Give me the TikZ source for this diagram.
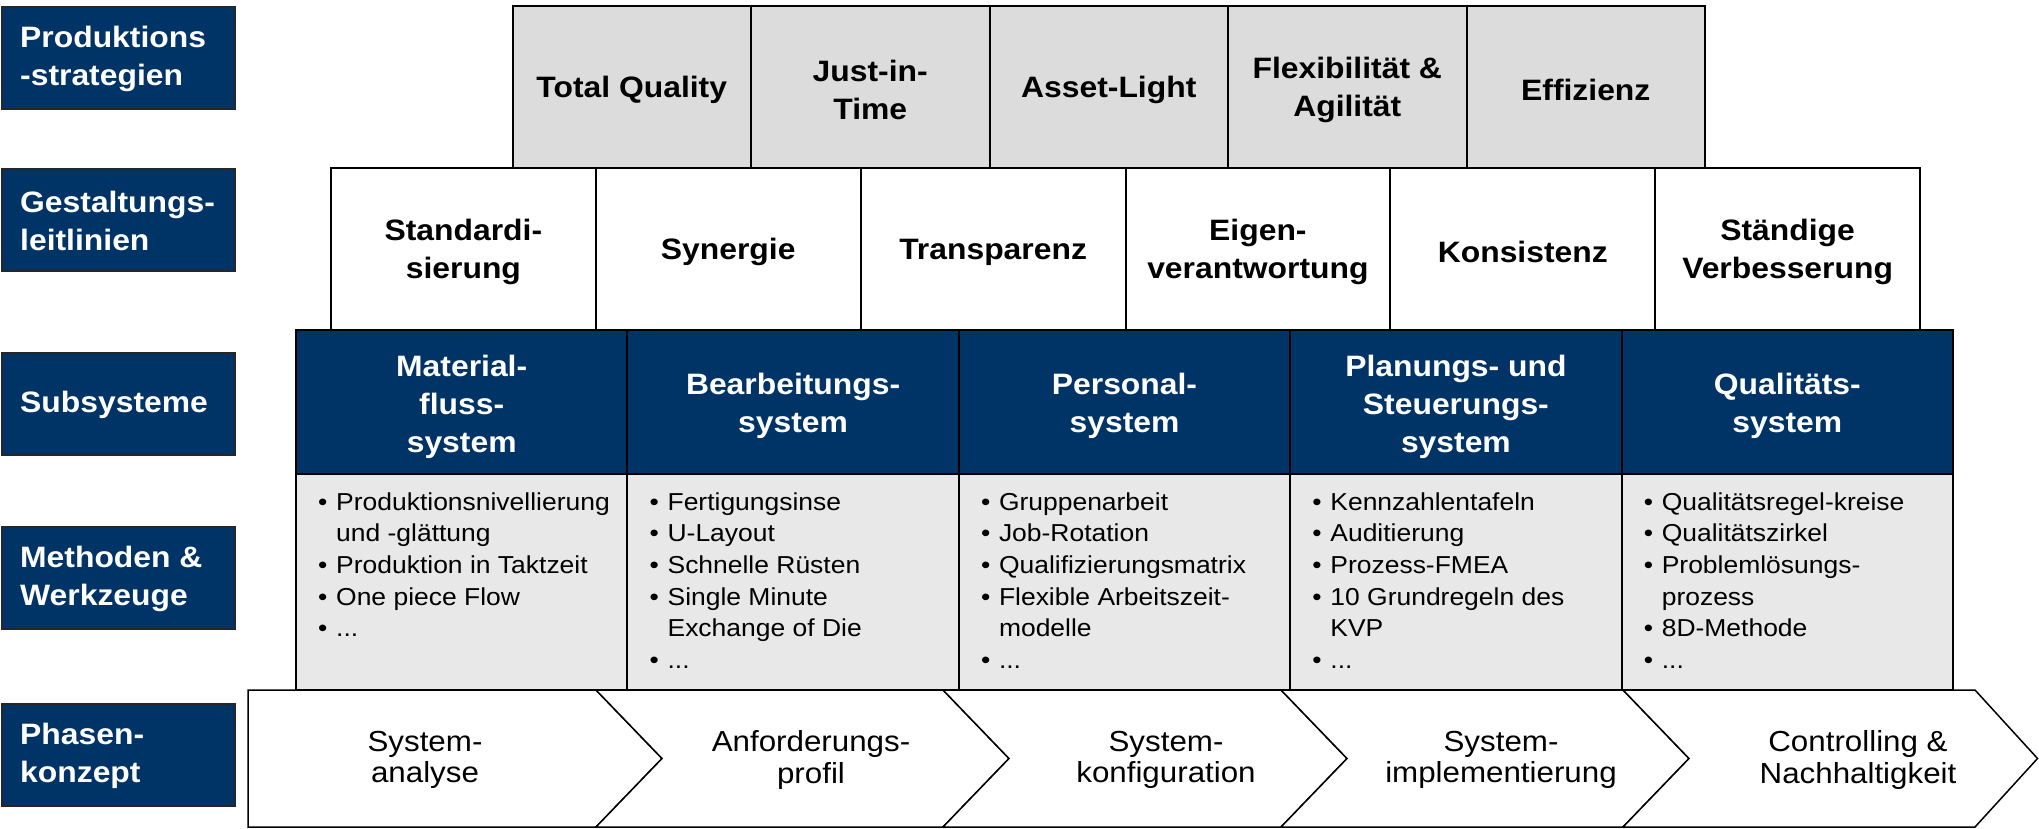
\documentclass[tikz,border=0pt]{standalone}
\usepackage{fontspec}
\setmainfont{Liberation Sans}[FakeStretch=1.08]
\definecolor{navy}{RGB}{0,51,102}
\definecolor{grayA}{RGB}{220,220,220}
\definecolor{grayB}{RGB}{232,232,232}
\newcommand\bul{\makebox[18pt][l]{\textbullet}}
\newcommand\cont{\hspace*{18pt}}
\newcommand\mlist[1]{\parbox[t]{310pt}{\fontsize{24.5}{31.7}\selectfont #1}}
\tikzset{
  bfont/.style={font=\fontsize{29.5}{38}\selectfont\bfseries},
  lblbox/.style={draw=black!85, line width=2pt, fill=navy,
    minimum width=233pt, minimum height=102pt, inner sep=0pt, anchor=north west},
  lbltxt/.style={bfont, text=white, align=left, inner sep=0pt, anchor=west},
  strat/.style={bfont, draw=black, line width=2pt, fill=grayA,
    minimum width=238.5pt, minimum height=162pt, text width=215pt, align=center, inner sep=0pt},
  guide/.style={bfont, draw=black, line width=2pt, fill=white,
    minimum width=264.8pt, minimum height=162pt, text width=245pt, align=center, inner sep=0pt},
  subsys/.style={bfont, draw=black, line width=2pt, fill=navy, text=white,
    minimum width=331.4pt, minimum height=144pt, text width=310pt, align=center, inner sep=0pt},
  btext/.style={bfont, align=center, inner sep=0pt},
  wtext/.style={bfont, text=white, align=center, inner sep=0pt},
  methbox/.style={draw=black, line width=2pt, fill=grayB,
    minimum width=331.4pt, minimum height=216pt, inner sep=0pt},
  methtxt/.style={anchor=base west, inner sep=0pt},
  phase/.style={draw=black, line width=1.5pt, fill=white, line join=miter},
  phtxt/.style={font=\fontsize{29}{31.7}\selectfont, align=center, inner sep=0pt}
}
\begin{document}
\begin{tikzpicture}[x=1pt,y=-1pt]
\useasboundingbox (0,0) rectangle (2039,829);

% left labels
\node[lblbox] (l1) at (1,6) {};
\node[lblbox] (l2) at (1,168) {};
\node[lblbox] (l3) at (1,352) {};
\node[lblbox] (l4) at (1,526) {};
\node[lblbox] (l5) at (1,703) {};
\node[lbltxt] (lt1) at (20,59) {Produktions\\-strategien};
\node[lbltxt] (lt2) at (20,221) {Gestaltungs-\\leitlinien};
\node[lbltxt] (lt3) at (20,405) {Subsysteme};
\node[lbltxt] (lt4) at (20,579) {Methoden \&\\Werkzeuge};
\node[lbltxt] (lt5) at (20,756) {Phasen-\\konzept};

% row 1: strategies
\node[strat] (s1) at (631.75,87) {};
\node[strat] (s2) at (870.25,87) {};
\node[strat] (s3) at (1108.75,87) {};
\node[strat] (s4) at (1347.25,87) {};
\node[strat] (s5) at (1585.75,87) {};
\node[btext] (st1) at (631.75,90) {Total Quality};
\node[btext] (st2) at (870.25,90) {Just-in-\\Time};
\node[btext] (st3) at (1108.75,90) {Asset-Light};
\node[btext] (st4) at (1347.25,90) {Flexibilität \&\\Agilität};
\node[btext] (st5) at (1585.75,90) {Effizienz};

% row 2: guidelines
\node[guide] (g1) at (463.4,249) {};
\node[guide] (g2) at (728.2,249) {};
\node[guide] (g3) at (993.1,249) {};
\node[guide] (g4) at (1257.9,249) {};
\node[guide] (g5) at (1522.8,249) {};
\node[guide] (g6) at (1787.6,249) {};
\node[btext] (gt1) at (463.4,252) {Standardi-\\sierung};
\node[btext] (gt2) at (728.2,252) {Synergie};
\node[btext] (gt3) at (993.1,252) {Transparenz};
\node[btext] (gt4) at (1257.9,252) {Eigen-\\verantwortung};
\node[btext] (gt5) at (1522.8,252) {Konsistenz};
\node[btext] (gt6) at (1787.6,252) {Ständige\\Verbesserung};

% row 3: subsystems
\node[subsys] (u1) at (461.7,402) {};
\node[subsys] (u2) at (793.1,402) {};
\node[subsys] (u3) at (1124.5,402) {};
\node[subsys] (u4) at (1455.9,402) {};
\node[subsys] (u5) at (1787.3,402) {};
\node[wtext] (ut1) at (461.7,407) {Material-\\fluss-\\system};
\node[wtext] (ut2) at (793.1,406) {Bearbeitungs-\\system};
\node[wtext] (ut3) at (1124.5,406) {Personal-\\system};
\node[wtext] (ut4) at (1455.9,407) {Planungs- und\\Steuerungs-\\system};
\node[wtext] (ut5) at (1787.3,406) {Qualitäts-\\system};

% row 4: methods
\node[methbox] (b1) at (461.7,582) {};
\node[methbox] (b2) at (793.1,582) {};
\node[methbox] (b3) at (1124.5,582) {};
\node[methbox] (b4) at (1455.9,582) {};
\node[methbox] (b5) at (1787.3,582) {};

\node[methtxt] (t1) at (318,510) {\mlist{\bul Produktionsnivellierung\\ \cont und -glättung\\ \bul Produktion in Taktzeit\\ \bul One piece Flow\\ \bul ...}};
\node[methtxt] (t2) at (649.4,510) {\mlist{\bul Fertigungsinse\\ \bul U-Layout\\ \bul Schnelle Rüsten\\ \bul Single Minute\\ \cont Exchange of Die\\ \bul ...}};
\node[methtxt] (t3) at (980.8,510) {\mlist{\bul Gruppenarbeit\\ \bul Job-Rotation\\ \bul Qualifizierungsmatrix\\ \bul Flexible Arbeitszeit-\\ \cont modelle\\ \bul ...}};
\node[methtxt] (t4) at (1312.2,510) {\mlist{\bul Kennzahlentafeln\\ \bul Auditierung\\ \bul Prozess-FMEA\\ \bul 10 Grundregeln des\\ \cont KVP\\ \bul ...}};
\node[methtxt] (t5) at (1643.6,510) {\mlist{\bul Qualitätsregel-kreise\\ \bul Qualitätszirkel\\ \bul Problemlösungs-\\ \cont prozess\\ \bul 8D-Methode\\ \bul ...}};

% row 5: phases (chevrons)
\draw[phase] (248,690) -- (596,690) -- (662,758.5) -- (596,827) -- (248,827) -- cycle;
\draw[phase] (596,690) -- (943,690) -- (1009,758.5) -- (943,827) -- (596,827) -- (662,758.5) -- cycle;
\draw[phase] (943,690) -- (1281,690) -- (1347,758.5) -- (1281,827) -- (943,827) -- (1009,758.5) -- cycle;
\draw[phase] (1281,690) -- (1623,690) -- (1689,758.5) -- (1623,827) -- (1281,827) -- (1347,758.5) -- cycle;
\draw[phase] (1623,690) -- (1975,690) -- (2037.5,758.5) -- (1975,827) -- (1623,827) -- (1689,758.5) -- cycle;

\node[phtxt] (p1) at (425,760) {System-\\analyse};
\node[phtxt] (p2) at (811,760) {Anforderungs-\\profil};
\node[phtxt] (p3) at (1166,760) {System-\\konfiguration};
\node[phtxt] (p4) at (1501,760) {System-\\implementierung};
\node[phtxt] (p5) at (1858,760) {Controlling \&\\Nachhaltigkeit};
\end{tikzpicture}
\end{document}
